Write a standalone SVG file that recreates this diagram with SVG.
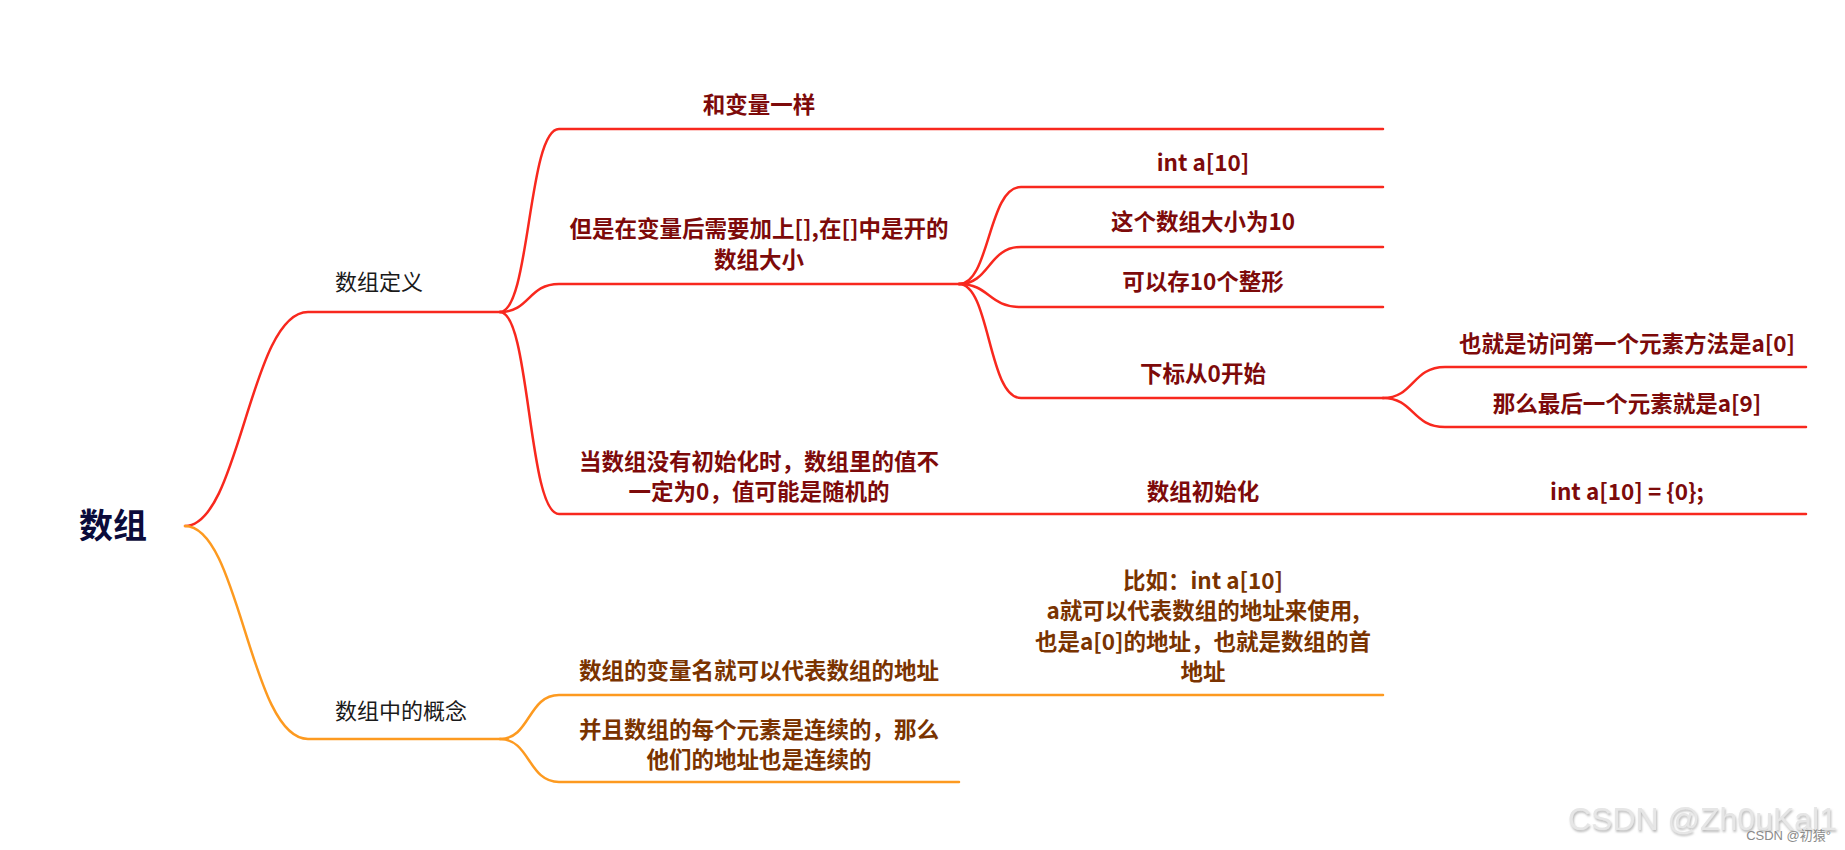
<svg xmlns="http://www.w3.org/2000/svg" width="1845" height="850" viewBox="0 0 1845 850">
<defs>
<style>
.r{fill:none;stroke:#f8281e;stroke-width:2.5;stroke-linecap:round}
.o{fill:none;stroke:#fd9a20;stroke-width:2.5;stroke-linecap:round}
.t{font-family:"Noto Sans CJK SC","Noto Sans",sans-serif;font-weight:bold;font-size:22.5px;text-anchor:middle}
.tr{fill:#7d0a0a}
.to{fill:#7a3300}
.l1{font-family:"Noto Sans CJK SC","Noto Sans",sans-serif;font-size:22px;fill:#1a1a1a;text-anchor:middle}
</style>
<filter id="emb" x="-5%" y="-20%" width="110%" height="140%">
<feDropShadow dx="1" dy="2" stdDeviation="1.2" flood-color="#9a9a9a" flood-opacity="0.7"/>
</filter>
</defs>
<rect width="1845" height="850" fill="#ffffff"/>
<g id="connectors">
<path class="r" d="M185,526 C240,526 250,312 308,312 L500,312"/>
<path class="o" d="M185,526 C240,526 250,739 308,739 L500,739"/>
<path class="r" d="M500,312 C530,312 528,129 559,129 L1383,129"/>
<path class="r" d="M500,312 C530,312 528,284 559,284 L959,284"/>
<path class="r" d="M500,312 C530,312 528,514 559,514 L1806,514"/>
<path class="r" d="M959,284 C990,284 988,187 1021,187 L1383,187"/>
<path class="r" d="M959,284 C990,284 988,247 1021,247 L1383,247"/>
<path class="r" d="M959,284 C990,284 988,307 1021,307 L1383,307"/>
<path class="r" d="M959,284 C990,284 988,398 1021,398 L1383,398"/>
<path class="r" d="M1383,398 C1414,398 1412,367 1445,367 L1806,367"/>
<path class="r" d="M1383,398 C1414,398 1412,427 1445,427 L1806,427"/>
<path class="o" d="M500,739 C530,739 528,695 559,695 L1383,695"/>
<path class="o" d="M500,739 C530,739 528,782 559,782 L959,782"/>
</g>
<g id="root"><text x="113" y="538" style="font-family:'Noto Sans CJK SC',sans-serif;font-weight:bold;font-size:34px;fill:#0b0b3b;text-anchor:middle">数组</text></g>
<g id="n-def"><text class="l1" x="379" y="290">数组定义</text></g>
<g id="n-concept"><text class="l1" x="401" y="719">数组中的概念</text></g>
<g id="n-same"><text class="t tr" x="759" y="113">和变量一样</text></g>
<g id="n-bracket"><text class="t tr" x="759" y="237">但是在变量后需要加上[],在[]中是开的</text><text class="t tr" x="759" y="268">数组大小</text></g>
<g id="n-uninit"><text class="t tr" x="759" y="470">当数组没有初始化时，数组里的值不</text><text class="t tr" x="759" y="500">一定为0，值可能是随机的</text></g>
<g id="n-int"><text class="t tr" x="1203" y="171">int a[10]</text></g>
<g id="n-size"><text class="t tr" x="1203" y="230">这个数组大小为10</text></g>
<g id="n-store"><text class="t tr" x="1203" y="290">可以存10个整形</text></g>
<g id="n-index"><text class="t tr" x="1203" y="382">下标从0开始</text></g>
<g id="n-first"><text class="t tr" x="1627" y="352">也就是访问第一个元素方法是a[0]</text></g>
<g id="n-last"><text class="t tr" x="1627" y="412">那么最后一个元素就是a[9]</text></g>
<g id="n-initarr"><text class="t tr" x="1203" y="500">数组初始化</text></g>
<g id="n-initcode"><text class="t tr" x="1627" y="500">int a[10] = {0};</text></g>
<g id="n-name"><text class="t to" x="759" y="679">数组的变量名就可以代表数组的地址</text></g>
<g id="n-example"><text class="t to" x="1203" y="589">比如：int a[10]</text><text class="t to" x="1203" y="619">a就可以代表数组的地址来使用,</text><text class="t to" x="1203" y="650">也是a[0]的地址，也就是数组的首</text><text class="t to" x="1203" y="680">地址</text></g>
<g id="n-contig"><text class="t to" x="759" y="738">并且数组的每个元素是连续的，那么</text><text class="t to" x="759" y="768">他们的地址也是连续的</text></g>
<g id="watermark">
<text x="1837" y="830" filter="url(#emb)" style="font-family:'Liberation Sans',sans-serif;font-size:32px;fill:#e6e6e6;text-anchor:end">CSDN @Zh0uKal1</text>
<text x="1831" y="840" style="font-family:'Liberation Sans','Noto Sans CJK SC',sans-serif;font-size:13px;fill:#8a8a8a;text-anchor:end">CSDN @初猿°</text>
</g>
</svg>
